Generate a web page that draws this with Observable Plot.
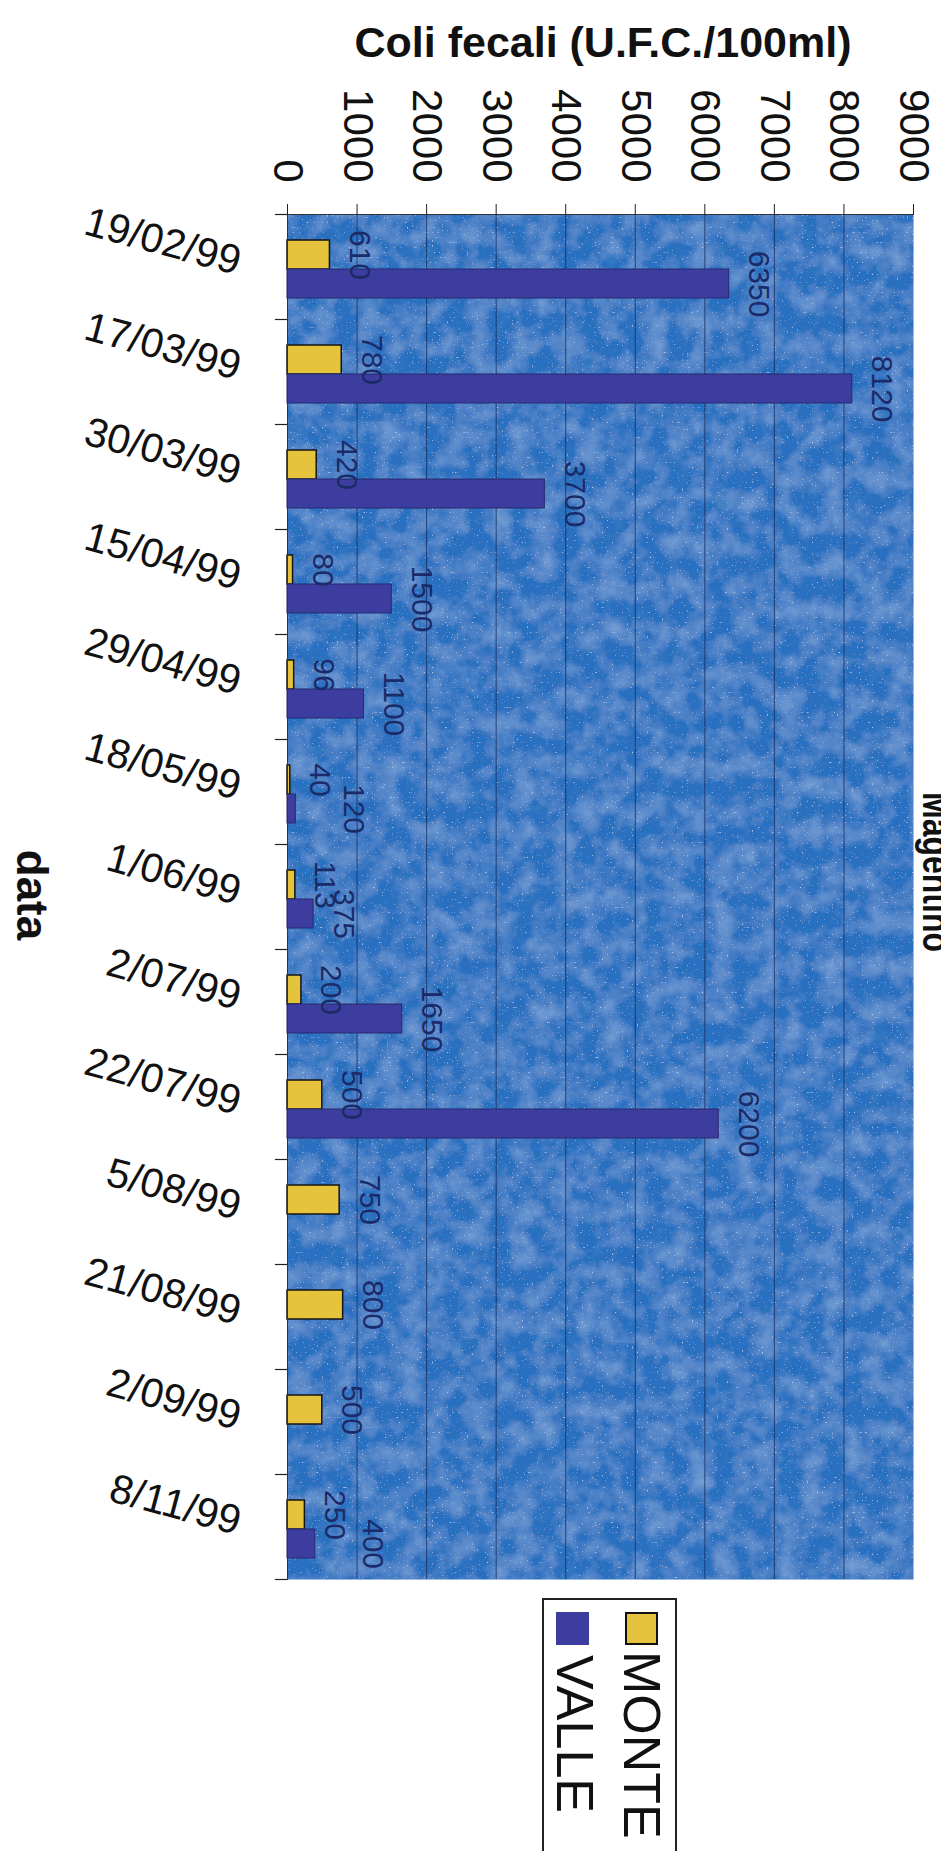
<!DOCTYPE html>
<html>
<head>
<meta charset="utf-8">
<script src="https://cdn.jsdelivr.net/npm/d3@7"></script>
<script src="https://cdn.jsdelivr.net/npm/@observablehq/plot@0.6"></script>
<style>
html, body { margin: 0; padding: 0; overflow: hidden; background: #fff; width: 941px; height: 1851px; }
#wrap { position: relative; width: 941px; height: 1851px; font-family: "Liberation Sans", Arial, Helvetica, sans-serif; color: #111; }
#wrap svg { position: absolute; left: 0; top: 0; }
.ov { position: absolute; white-space: nowrap; line-height: 1; transform-origin: 0 0; }
.box { position: absolute; box-sizing: border-box; }
</style>
</head>
<body>
<div id="wrap"></div>
<script>
// ---- data ----
const dates = ["19/02/99", "17/03/99", "30/03/99", "15/04/99", "29/04/99", "18/05/99", "1/06/99",
               "2/07/99", "22/07/99", "5/08/99", "21/08/99", "2/09/99", "8/11/99"];
const series = ["MONTE", "VALLE"];
const monte = [610, 780, 420, 80, 96, 40, 113, 200, 500, 750, 800, 500, 250];
const valle = [6350, 8120, 3700, 1500, 1100, 120, 375, 1650, 6200, null, null, null, 400];
const xTicks = [0, 1000, 2000, 3000, 4000, 5000, 6000, 7000, 8000, 9000];
const gridTicks = [1000, 2000, 3000, 4000, 5000, 6000, 7000, 8000];
const xTitle = "Coli fecali (U.F.C./100ml)";
const yTitle = "data";
const chartTitle = "Magentino";

const colors = {MONTE: "#e6c33c", VALLE: "#3c3d9f"};
const strokes = {MONTE: "#151515", VALLE: "#272a70"};
const bgColor = "#2970c0";

const rows = [];
dates.forEach((d, i) => {
  if (monte[i] != null) rows.push({date: d, series: "MONTE", value: monte[i], crowded: false});
  if (valle[i] != null) rows.push({date: d, series: "VALLE", value: valle[i],
    crowded: Math.abs(valle[i] - monte[i]) < 200});
});

// ---- layout ----
const W = 941, H = 1851, mT = 214, mB = 272, mL = 287, mR = 28;
const plotW = W - mL - mR;
const font = '"Liberation Sans", Arial, Helvetica, sans-serif';

const labelOpts = {fy: "date", y: "series", x: "value", text: d => String(d.value),
  rotate: 90, textAnchor: "middle", lineAnchor: "bottom", fontSize: 30, fill: "#1b2a68"};

const chart = Plot.plot({
  width: W, height: H,
  marginTop: mT, marginBottom: mB, marginLeft: mL, marginRight: mR,
  style: {fontFamily: font, background: "transparent", color: "#111", overflow: "visible"},
  x: {domain: [0, 9000], axis: null},
  fy: {domain: dates, padding: 0, axis: null, label: null},
  y: {domain: series, paddingInner: 0, paddingOuter: 0.81, align: 0.553, axis: null},
  marks: [
    Plot.frame({fill: bgColor, stroke: null, facet: "super"}),
    Plot.gridX(gridTicks, {stroke: "#142a58", strokeOpacity: 0.75, strokeWidth: 1}),
    Plot.barX(rows.filter(d => d.series === "MONTE"),
      {fy: "date", y: "series", x: "value", fill: colors.MONTE, stroke: strokes.MONTE, strokeWidth: 1.5}),
    Plot.barX(rows.filter(d => d.series === "VALLE"),
      {fy: "date", y: "series", x: "value", fill: colors.VALLE, stroke: strokes.VALLE, strokeWidth: 1}),
    Plot.text(rows.filter(d => !d.crowded), {...labelOpts, dx: 20}),
    Plot.text(rows.filter(d => d.crowded), {...labelOpts, dx: 48}),
    Plot.text(dates, {fy: d => d, text: d => d, frameAnchor: "left", dx: -51, dy: 8,
      rotate: 15, textAnchor: "end", lineAnchor: "bottom", fontSize: 41, fill: "#111"}),
    // category axis ticks at band boundaries
    Plot.frame({anchor: "top", insetLeft: -12, insetRight: plotW, stroke: "#222", strokeWidth: 1.2}),
    Plot.frame({anchor: "bottom", insetLeft: -12, insetRight: plotW, stroke: "#222", strokeWidth: 1.2, facetAnchor: "bottom"}),
    Plot.frame({anchor: "left", stroke: "#333", strokeWidth: 1}),
    Plot.frame({anchor: "top", stroke: "#333", strokeWidth: 1, facetAnchor: "top"}),
    Plot.axisX({anchor: "top", ticks: xTicks, tickSize: 11, tickPadding: 21, tickRotate: 90,
      textAnchor: "end", lineAnchor: "middle", fontSize: 42, tickFormat: d => String(d),
      label: null, stroke: "#222"})
  ]
});

// subtle mottled texture on the plot background (style only)
const svg = d3.select(chart);
const defs = svg.insert("defs", ":first-child");
const f = defs.append("filter").attr("id", "mottle")
  .attr("filterUnits", "userSpaceOnUse").attr("x", 0).attr("y", 0).attr("width", W).attr("height", H);
f.append("feTurbulence").attr("type", "fractalNoise").attr("baseFrequency", 0.045)
  .attr("numOctaves", 3).attr("seed", 11).attr("result", "noise");
f.append("feColorMatrix").attr("in", "noise").attr("type", "matrix")
  .attr("values", "0 0 0 0 0.5  0 0 0 0 0.72  0 0 0 0 0.95  0.55 0 0 0 -0.2").attr("result", "light");
f.append("feColorMatrix").attr("in", "noise").attr("type", "matrix")
  .attr("values", "0 0 0 0 0.08  0 0 0 0 0.3  0 0 0 0 0.6  0 -0.8 0 0 0.32").attr("result", "dark");
f.append("feTurbulence").attr("type", "fractalNoise").attr("baseFrequency", 0.6)
  .attr("numOctaves", 1).attr("seed", 5).attr("result", "fine");
f.append("feColorMatrix").attr("in", "fine").attr("type", "matrix")
  .attr("values", "0 0 0 0 0.85  0 0 0 0 0.92  0 0 0 0 1  4 0 0 0 -2.7").attr("result", "speck");
f.append("feComposite").attr("in", "light").attr("in2", "SourceGraphic").attr("operator", "in").attr("result", "l2");
f.append("feComposite").attr("in", "dark").attr("in2", "SourceGraphic").attr("operator", "in").attr("result", "d2");
f.append("feComposite").attr("in", "speck").attr("in2", "SourceGraphic").attr("operator", "in").attr("result", "s2");
const fm = f.append("feMerge");
fm.append("feMergeNode").attr("in", "SourceGraphic");
fm.append("feMergeNode").attr("in", "d2");
fm.append("feMergeNode").attr("in", "l2");
fm.append("feMergeNode").attr("in", "s2");
svg.selectAll(`[fill="${bgColor}"]`).attr("filter", "url(#mottle)");

const wrap = document.getElementById("wrap");
wrap.appendChild(chart);

function addDiv(cls, css, text) {
  const el = document.createElement("div");
  el.className = cls;
  el.style.cssText = css;
  if (text != null) el.textContent = text;
  wrap.appendChild(el);
  return el;
}

// axis titles and chart title (the chart title is cut by the right page edge, as in the scan)
addDiv("ov", "left:603px;top:21px;font-size:43px;font-weight:bold;transform:translateX(-50%);", xTitle);
addDiv("ov", "left:54px;top:895px;font-size:44px;font-weight:bold;transform:rotate(90deg) translateX(-50%);", yTitle);
addDiv("ov", "left:957px;top:792px;font-size:40px;font-weight:bold;transform:rotate(90deg) scaleX(0.8);", chartTitle);

// legend
addDiv("box", "left:542px;top:1598px;width:135px;height:280px;border:2px solid #222;background:#fff;");
addDiv("box", `left:625px;top:1612px;width:33px;height:33px;border:2px solid #111;background:${colors.MONTE};`);
addDiv("box", `left:556px;top:1612px;width:33px;height:33px;background:${colors.VALLE};`);
addDiv("ov", "left:668px;top:1651px;font-size:52px;transform:rotate(90deg);", series[0]);
addDiv("ov", "left:601px;top:1655px;font-size:52px;transform:rotate(90deg);", series[1]);
</script>
</body>
</html>
